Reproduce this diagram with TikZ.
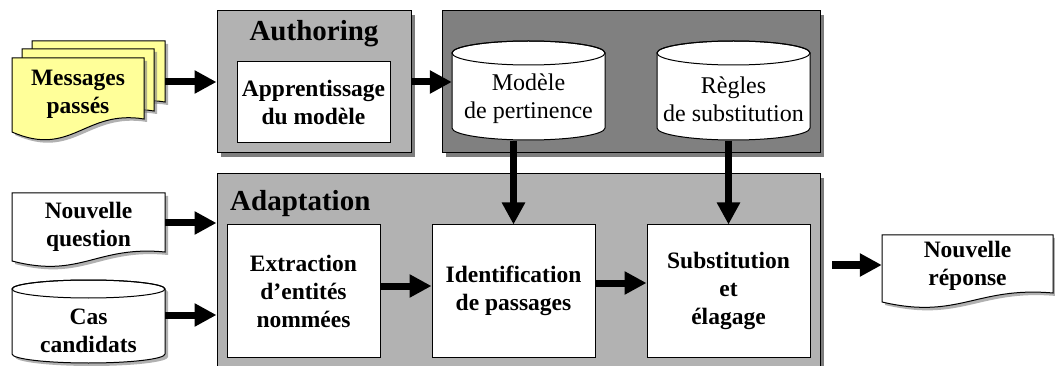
\documentclass[tikz,border=0pt]{standalone}
\usepackage{fontspec}
\setmainfont{Liberation Serif}
\usetikzlibrary{arrows.meta,shadows}

\definecolor{panelgray}{RGB}{178,178,178}
\definecolor{storegray}{RGB}{128,128,128}
\definecolor{shadowgray}{RGB}{125,125,125}
\definecolor{noteyellow}{RGB}{255,255,153}

\newcommand\bodybold{\fontsize{23.5}{28}\selectfont\bfseries}
\newcommand\bodyreg{\fontsize{24}{28}\selectfont}
\newcommand\titlefont{\fontsize{29}{34}\selectfont\bfseries}

% document sheet with a wavy lower edge: x0, x1, top, left bottom, wave amplitude, style
\newcommand\docshape[6]{%
  \path[#6] (#1,#3) -- (#2,#3) -- (#2,{#4+#5})
    .. controls ({#1+0.55*(#2-#1)},{#4+1.75*#5}) and ({#1+0.45*(#2-#1)},{#4-2*#5}) ..
    (#1,#4) -- cycle;}

% data store drum: x0, x1, top, bottom, ellipse half height, style
\newcommand\cylshape[6]{%
  \path[#6] (#1,{#3-#5}) -- (#1,{#4+#5})
    arc[start angle=180,end angle=360,x radius={(#2-#1)/2},y radius=#5]
    -- (#2,{#3-#5})
    arc[start angle=0,end angle=180,x radius={(#2-#1)/2},y radius=#5] -- cycle;
  \draw[line width=1pt] ({(#1+#2)/2},{#3-#5}) ellipse[x radius={(#2-#1)/2},y radius=#5];}

\begin{document}
\begin{tikzpicture}[x=1pt,y=1pt,
  arr/.style={line width=7pt,-{Triangle[length=22pt,width=22pt]}},
  panel/.style={draw,line width=1pt,
    drop shadow={shadow xshift=4pt,shadow yshift=-4pt,fill=shadowgray,opacity=1}},
  softshadow/.style={drop shadow={shadow xshift=3pt,shadow yshift=-3pt,fill=shadowgray,opacity=0.6}},
  procbox/.style={draw,line width=1pt,fill=white,align=center,font=\bodybold},
  title/.style={inner sep=0pt,font=\titlefont},
  boldtext/.style={align=center,inner sep=0pt,font=\bodybold},
  storetext/.style={align=center,inner sep=0pt,font=\bodyreg},
  sheet/.style={draw,line width=1pt,softshadow},
  drum/.style={draw,line width=1pt,fill=white}]

\useasboundingbox (0,0) rectangle (1055,-366);
\clip (0,0) rectangle (1055,-366);

% background panels
\node[panel,fill=panelgray,minimum width=603pt,minimum height=198pt] (adapt) at (518.5,-273) {};
\node[panel,fill=panelgray,minimum width=194pt,minimum height=142pt] (auth) at (314,-82) {};
\node[panel,fill=storegray,minimum width=378pt,minimum height=142pt] (store) at (631,-82) {};

\node[title,anchor=base] (authT) at (314,-41) {Authoring};
\node[title,anchor=base west] (adaptT) at (230,-210.5) {Adaptation};

% authoring step
\node[procbox,minimum width=153pt,minimum height=81pt] (learn) at (313.5,-102.5) {Apprentissage\\du modèle};

% knowledge stores
\cylshape{452}{605}{-41}{-140}{12}{drum}
\node[storetext,minimum width=153pt,minimum height=83pt] (model) at (528.5,-99) {Modèle\\de pertinence};
\cylshape{657}{810}{-41}{-140}{12}{drum}
\node[storetext,minimum width=153pt,minimum height=83pt] (rules) at (733.5,-99) {Règles\\de substitution};

% past messages (stack of sheets)
\docshape{32}{165}{-41}{-115}{13}{sheet,fill=noteyellow}
\docshape{22}{154}{-49}{-124}{13}{sheet,fill=noteyellow}
\docshape{12}{144}{-58}{-132}{13}{sheet,fill=noteyellow}
\node[boldtext] (msg) at (78,-94) {Messages\\passés};
\coordinate (stackR) at (165,-82);

% inputs
\docshape{12}{165}{-193}{-261}{9}{sheet,fill=white}
\node[boldtext,minimum width=153pt] (question) at (88.5,-227) {Nouvelle\\question};
\cylshape{12}{165}{-280}{-363}{9}{drum,softshadow}
\node[boldtext,minimum width=153pt] (cases) at (88.5,-331) {Cas\\candidats};

% adaptation steps
\node[procbox,minimum width=153pt,minimum height=132pt] (extract) at (303.5,-291) {Extraction\\d’entités\\nommées};
\node[procbox,minimum width=163pt,minimum height=132pt] (ident) at (513.5,-291) {Identification\\de passages};
\node[procbox,minimum width=163pt,minimum height=132pt] (subst) at (728.5,-291) {Substitution\\et\\élagage};

% output
\docshape{882}{1053}{-235}{-302}{9}{sheet,fill=white}
\node[boldtext,minimum width=171pt] (answer) at (967.5,-266) {Nouvelle\\réponse};
\coordinate (outL) at (832,-265);

% flows
\draw[arr] (stackR) -- (auth.west);
\draw[arr] (auth.east) -- (auth.east -| model.west);
\draw[arr] (ident.north |- model.south) -- (ident.north);
\draw[arr] (subst.north |- rules.south) -- (subst.north);
\draw[arr] (question.east |- 0,-223) -- (adapt.west |- 0,-223);
\draw[arr] (cases.east |- 0,-315) -- (adapt.west |- 0,-315);
\draw[arr] (extract.east |- 0,-286) -- (ident.west |- 0,-286);
\draw[arr] (ident.east |- 0,-283) -- (subst.west |- 0,-283);
\draw[arr] (outL) -- (answer.west |- outL);
\end{tikzpicture}
\end{document}
